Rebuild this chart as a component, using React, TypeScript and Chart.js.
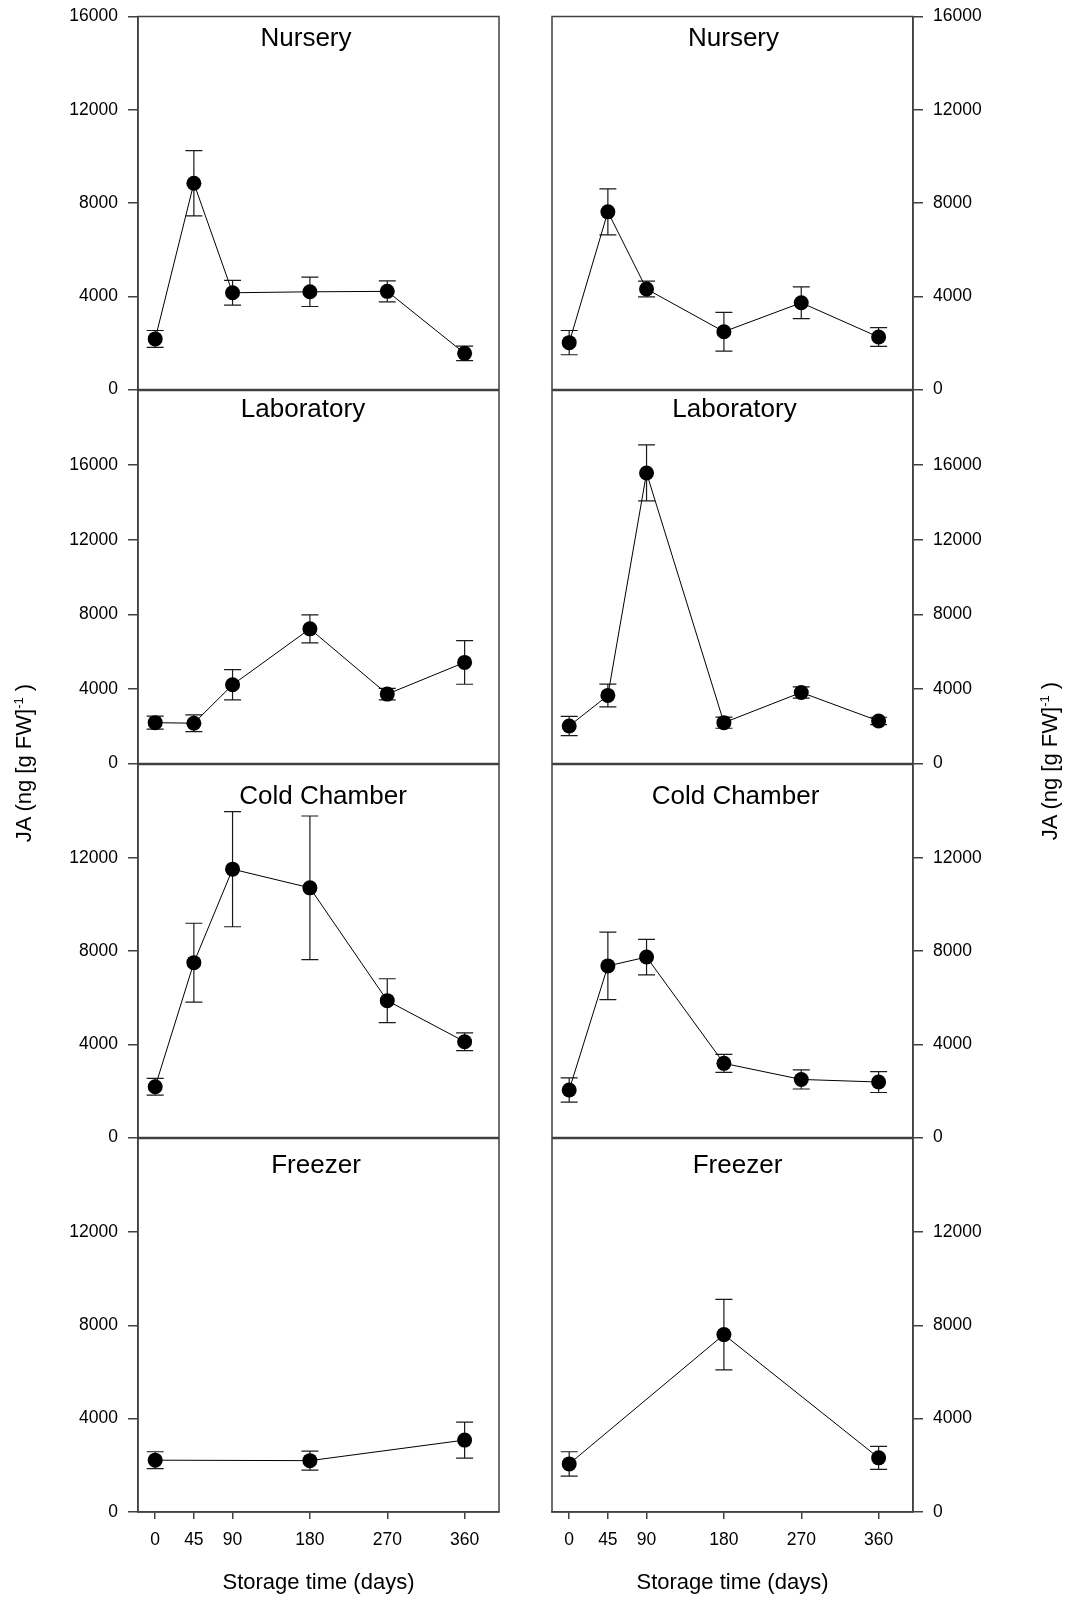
import React, { useEffect, useRef } from 'react';
import { Chart, registerables } from 'chart.js';

Chart.register(...registerables);

// ---- data -------------------------------------------------------------
const DAYS = [0, 45, 90, 180, 270, 360];
const FREEZER_DAYS = [0, 180, 360];
const X_TICKS = [0, 45, 90, 180, 270, 360];
const Y_TICKS = [0, 4000, 8000, 12000, 16000];
const PANEL_TITLES = ['Nursery', 'Laboratory', 'Cold Chamber', 'Freezer'];
const Y_MAX = [16000, 20000, 16000, 16000];
const Y_LAST_LABEL = [16000, 16000, 12000, 12000];
const X_TITLE = 'Storage time (days)';

// left column: mean JA and standard error
const nurseryA = [2170, 8850, 4150, 4190, 4210, 1550];
const nurseryAErr = [360, 1400, 530, 630, 450, 310];
const labA = [2190, 2160, 4220, 7220, 3720, 5420];
const labAErr = [350, 450, 810, 750, 310, 1170];
const coldA = [2180, 7500, 11510, 10710, 5870, 4110];
const coldAErr = [360, 1690, 2470, 3080, 940, 380];
const freezerA = [2220, 2200, 3080];
const freezerAErr = [360, 410, 770];

// right column: mean JA and standard error
const nurseryB = [2010, 7620, 4310, 2480, 3720, 2250];
const nurseryBErr = [520, 990, 340, 830, 680, 400];
const labB = [2010, 3650, 15580, 2190, 3810, 2280];
const labBErr = [520, 610, 1500, 300, 300, 200];
const coldB = [2040, 7360, 7740, 3180, 2490, 2380];
const coldBErr = [520, 1450, 760, 385, 410, 450];
const freezerB = [2060, 7600, 2320];
const freezerBErr = [520, 1510, 490];

// ---- layout & style ---------------------------------------------------
const FONT = '"Liberation Sans", Arial, Helvetica, sans-serif';
const AXIS_COLOR = '#404040';
const PANEL_TOP = 16;
const PANEL_H = 374;
const MARGIN = 20;
const X_AXIS_H = 85;
const CAP = 8.5;
const COLS = [
  { canvasLeft: 0, canvasWidth: 540, padLeft: 0, padRight: 41, axisW: 138, side: 'left' },
  { canvasLeft: 540, canvasWidth: 530, padLeft: 12, padRight: 0, axisW: 157, side: 'right' },
];
const TITLE_DX = [
  [-12.5, -15.5, 4.5, -2.5],
  [1, 2, 3, 5],
];
const TITLE_BASELINE = [29, 26.7, 39.3, 34];

const errorBars = {
  id: 'errorBars',
  beforeDatasetsDraw(chart: any) {
    const { ctx } = chart;
    const xs = chart.scales.x;
    const ys = chart.scales.y;
    chart.data.datasets.forEach((ds: any) => {
      const errs: number[] | undefined = ds.errors;
      if (!errs) return;
      ctx.save();
      ctx.strokeStyle = '#1a1a1a';
      ctx.lineWidth = 1.2;
      ds.data.forEach((p: any, i: number) => {
        const px = xs.getPixelForValue(p.x);
        const top = ys.getPixelForValue(p.y + errs[i]);
        const bot = ys.getPixelForValue(p.y - errs[i]);
        ctx.beginPath();
        ctx.moveTo(px, top);
        ctx.lineTo(px, bot);
        ctx.moveTo(px - CAP, top);
        ctx.lineTo(px + CAP, top);
        ctx.moveTo(px - CAP, bot);
        ctx.lineTo(px + CAP, bot);
        ctx.stroke();
      });
      ctx.restore();
    });
  },
};

const panelFrame = {
  id: 'panelFrame',
  afterDraw(chart: any, _args: any, opts: any) {
    const { ctx } = chart;
    const { left, top, right, bottom } = chart.chartArea;
    ctx.save();
    ctx.strokeStyle = AXIS_COLOR;
    ctx.lineWidth = 1.5;
    ctx.strokeRect(left, top, right - left, bottom - top);
    ctx.fillStyle = '#000';
    ctx.font = `26px ${FONT}`;
    ctx.textAlign = 'center';
    ctx.textBaseline = 'alphabetic';
    ctx.fillText(opts.title, (left + right) / 2 + opts.dx, top + opts.baseline);
    ctx.restore();
  },
};

type PanelProps = {
  row: number;
  col: number;
  days: number[];
  values: number[];
  errors: number[];
};

function Panel({ row, col, days, values, errors }: PanelProps) {
  const ref = useRef<HTMLCanvasElement | null>(null);
  const c = COLS[col];
  const isBottom = row === 3;
  const top = PANEL_TOP + row * PANEL_H - MARGIN;
  const height = isBottom ? PANEL_H + MARGIN + X_AXIS_H : PANEL_H + 2 * MARGIN;

  useEffect(() => {
    if (!ref.current) return;
    const tickFont = { family: FONT, size: 17.5 };
    const chart = new Chart(ref.current, {
      type: 'line',
      data: {
        datasets: [
          {
            data: days.map((d, i) => ({ x: d, y: values[i] })),
            errors,
            borderColor: '#000',
            borderWidth: 1,
            pointRadius: 7.5,
            pointHoverRadius: 7.5,
            pointBackgroundColor: '#000',
            pointBorderWidth: 0,
            tension: 0,
            fill: false,
          } as any,
        ],
      },
      options: {
        responsive: false,
        animation: false,
        events: [],
        layout: {
          padding: {
            top: MARGIN,
            bottom: isBottom ? 0 : MARGIN,
            left: c.padLeft,
            right: c.padRight,
          },
        },
        plugins: {
          legend: { display: false },
          tooltip: { enabled: false },
          panelFrame: { title: PANEL_TITLES[row], dx: TITLE_DX[col][row], baseline: TITLE_BASELINE[row] },
        } as any,
        scales: {
          x: {
            type: 'linear',
            min: -20,
            max: 400,
            display: isBottom,
            afterBuildTicks: (s: any) => {
              s.ticks = X_TICKS.map((v) => ({ value: v }));
            },
            afterFit: (s: any) => {
              s.height = isBottom ? X_AXIS_H : 0;
            },
            grid: { drawOnChartArea: false, drawTicks: true, tickLength: 7, color: AXIS_COLOR, lineWidth: 1.5 },
            border: { display: true, color: AXIS_COLOR, width: 1.5 },
            ticks: {
              font: tickFont,
              color: '#000',
              padding: 11,
              maxRotation: 0,
              autoSkip: false,
              callback: (v: any) => String(v),
            },
            title: {
              display: true,
              text: X_TITLE,
              color: '#000',
              font: { family: FONT, size: 22 },
              padding: { top: 0, bottom: 1 },
            },
          },
          y: {
            type: 'linear',
            position: c.side as any,
            min: 0,
            max: Y_MAX[row],
            afterBuildTicks: (s: any) => {
              s.ticks = Y_TICKS.filter((v) => v <= Y_LAST_LABEL[row]).map((v) => ({ value: v }));
            },
            afterFit: (s: any) => {
              s.width = c.axisW;
            },
            grid: { drawOnChartArea: false, drawTicks: true, tickLength: 10, color: AXIS_COLOR, lineWidth: 1.5 },
            border: { display: true, color: AXIS_COLOR, width: 1.5 },
            ticks: {
              font: tickFont,
              color: '#000',
              padding: 10,
              autoSkip: false,
              callback: (v: any) => String(v),
            },
          },
        },
      },
      plugins: [errorBars, panelFrame],
    });
    return () => chart.destroy();
  }, [row, col, days, values, errors]);

  return (
    <canvas
      ref={ref}
      width={c.canvasWidth}
      height={height}
      style={{
        position: 'absolute',
        left: c.canvasLeft,
        top,
        width: c.canvasWidth,
        height,
      }}
    />
  );
}

function YTitle({ cx, cy }: { cx: number; cy: number }) {
  return (
    <div
      style={{
        position: 'absolute',
        left: cx - 120,
        top: cy - 15,
        width: 240,
        height: 30,
        lineHeight: '30px',
        textAlign: 'center',
        transform: 'rotate(-90deg)',
        font: `22px ${FONT}`,
        color: '#000',
        whiteSpace: 'nowrap',
      }}
    >
      JA (ng [g FW]<sup style={{ fontSize: '13px', lineHeight: 0 }}>-1</sup> )
    </div>
  );
}

export default function App() {
  const left = [
    { days: DAYS, values: nurseryA, errors: nurseryAErr },
    { days: DAYS, values: labA, errors: labAErr },
    { days: DAYS, values: coldA, errors: coldAErr },
    { days: FREEZER_DAYS, values: freezerA, errors: freezerAErr },
  ];
  const right = [
    { days: DAYS, values: nurseryB, errors: nurseryBErr },
    { days: DAYS, values: labB, errors: labBErr },
    { days: DAYS, values: coldB, errors: coldBErr },
    { days: FREEZER_DAYS, values: freezerB, errors: freezerBErr },
  ];
  return (
    <div
      style={{
        position: 'absolute',
        left: 0,
        top: 0,
        width: 1070,
        height: 1597,
        background: '#fff',
        overflow: 'hidden',
      }}
    >
      {left.map((p, i) => (
        <Panel key={`a${i}`} row={i} col={0} {...p} />
      ))}
      {right.map((p, i) => (
        <Panel key={`b${i}`} row={i} col={1} {...p} />
      ))}
      <YTitle cx={25.6} cy={763} />
      <YTitle cx={1051.6} cy={761} />
    </div>
  );
}
